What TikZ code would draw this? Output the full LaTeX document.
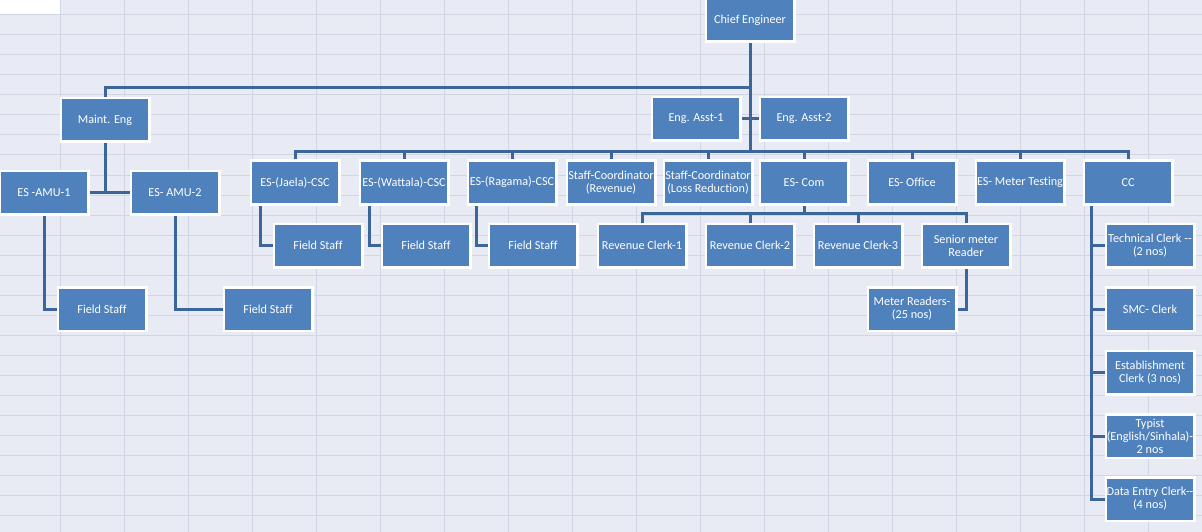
\documentclass[tikz,border=0pt]{standalone}
\usepackage{fontspec}
\setmainfont[Ligatures=NoCommon]{Carlito}
\definecolor{bgc}{HTML}{E8EBF4}
\definecolor{gridc}{HTML}{D0D6E4}
\definecolor{boxc}{HTML}{4F81BD}
\definecolor{connc}{HTML}{3C6699}
\pgfdeclarelayer{back}
\pgfdeclarelayer{conn}
\pgfsetlayers{back,conn,main}
\tikzset{
  orgbox/.style={fill=boxc, draw=white, line width=2.5pt, minimum width=88.5pt, minimum height=43.5pt,
    inner sep=0pt, text=white, align=center, font=\fontsize{12.2}{13}\selectfont},
  gridline/.style={draw=gridc, line width=1pt},
  link/.style={draw=connc, line width=3pt, line join=miter},
}
\begin{document}
\begin{tikzpicture}[x=1pt, y=-1pt]
\useasboundingbox (0,0) rectangle (1202,532);
% nodes
\node[orgbox] (chief) at (750,20) {Chief Engineer};
\node[orgbox] (maint) at (105,120) {Maint. Eng};
\node[orgbox] (asst1) at (696,119) {Eng. Asst-1};
\node[orgbox] (asst2) at (804,119) {Eng. Asst-2};
\node[orgbox] (amu1) at (44,192.5) {ES -AMU-1};
\node[orgbox] (amu2) at (175,192.5) {ES- AMU-2};
\node[orgbox] (fsa1) at (102,309) {Field Staff};
\node[orgbox] (fsa2) at (268,309) {Field Staff};
\node[orgbox] (jaela) at (295,182.5) {ES-(Jaela)-CSC};
\node[orgbox] (wattala) at (404,182.5) {ES-(Wattala)-CSC};
\node[orgbox] (ragama) at (512,182.5) {ES-(Ragama)-CSC};
\node[orgbox] (screv) at (611,182.5) {Staff-Coordinator\\(Revenue)};
\node[orgbox] (scloss) at (708,182.5) {Staff-Coordinator\\(Loss Reduction)};
\node[orgbox] (escom) at (804,182.5) {ES- Com};
\node[orgbox] (esoff) at (912,182.5) {ES- Office};
\node[orgbox] (esmt) at (1020,182.5) {ES- Meter Testing};
\node[orgbox] (cc) at (1128,182.5) {CC};
\node[orgbox] (fs1) at (318,245.5) {Field Staff};
\node[orgbox] (fs2) at (426,245.5) {Field Staff};
\node[orgbox] (fs3) at (533,245.5) {Field Staff};
\node[orgbox] (rc1) at (642,245.5) {Revenue Clerk-1};
\node[orgbox] (rc2) at (750,245.5) {Revenue Clerk-2};
\node[orgbox] (rc3) at (858,245.5) {Revenue Clerk-3};
\node[orgbox] (smr) at (966,245.5) {Senior meter\\Reader};
\node[orgbox] (mr) at (912,309) {Meter Readers-\\(25 nos)};
\node[orgbox] (tc) at (1150,245.5) {Technical Clerk -{}-\\(2 nos)};
\node[orgbox] (smc) at (1150,309) {SMC- Clerk};
\node[orgbox] (est) at (1150,372.5) {Establishment\\Clerk (3 nos)};
\node[orgbox] (typ) at (1150,436) {Typist\\(English/Sinhala)-\\2 nos};
\node[orgbox] (dec) at (1150,499) {Data Entry Clerk-{}-\\(4 nos)};
% background
\begin{pgfonlayer}{back}
\fill[bgc] (0,0) rectangle (1202,532);
\fill[white] (0,0) rectangle (60,15);
\foreach \i in {0,...,17} \draw[gridline] ({60+64*\i},0) -- ({60+64*\i},532);
\foreach \j in {0,...,25} \draw[gridline] (0,{15+20*\j}) -- (1202,{15+20*\j});
\end{pgfonlayer}
% connectors
\begin{pgfonlayer}{conn}
\coordinate (busA) at (750,88);
\coordinate (busB) at (750,152);
\coordinate (busC) at (804,213);
\draw[link] (chief.south) -- (busB);
\draw[link] (busA) -| (maint.north);
\draw[link] (asst1.east) -- (asst2.west);
\draw[link] (jaela.north) |- (busB);
\draw[link] (cc.north) |- (busB);
\foreach \n in {wattala,ragama,screv,scloss,escom,esoff,esmt}
  \draw[link] (\n.north) -- (\n.north |- busB);
\draw[link] (maint.south) -- (maint.south |- amu1.east);
\draw[link] (amu1.east) -- (amu2.west);
\draw[link] (amu1.south) |- (fsa1.west);
\draw[link] (amu2.south) |- (fsa2.west);
\draw[link] ([xshift=11pt]jaela.south west) |- (fs1.west);
\draw[link] ([xshift=11pt]wattala.south west) |- (fs2.west);
\draw[link] ([xshift=10pt]ragama.south west) |- (fs3.west);
\draw[link] (escom.south) -- (busC);
\draw[link] (rc1.north) |- (busC);
\draw[link] (smr.north) |- (busC);
\draw[link] (rc2.north) -- (rc2.north |- busC);
\draw[link] (rc3.north) -- (rc3.north |- busC);
\draw[link] (smr.south) |- (mr.east);
\coordinate (cctop) at ([xshift=9pt]cc.south west);
\draw[link] (cctop) |- (dec.west);
\foreach \n in {tc,smc,est,typ}
  \draw[link] (\n.west) -- (\n.west -| cctop);
\end{pgfonlayer}
\end{tikzpicture}
\end{document}
